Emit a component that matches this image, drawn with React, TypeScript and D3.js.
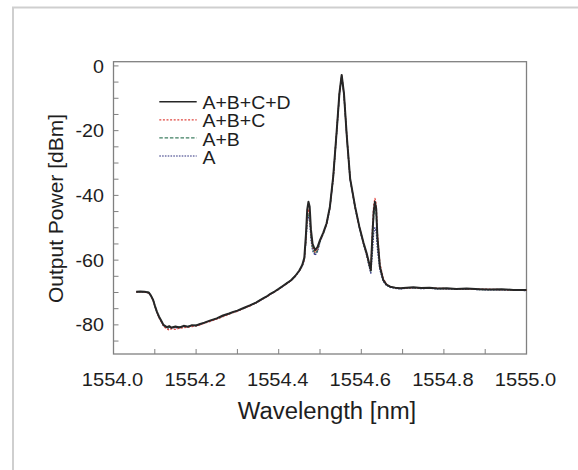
import { useEffect } from 'react';
import * as d3 from 'd3';

// wavelength grid [nm], shared by all four traces
const wavelength = [
  1554.055, 1554.065, 1554.075, 1554.085, 1554.09, 1554.096, 1554.1, 1554.105, 1554.11, 1554.115,
  1554.121, 1554.129, 1554.135, 1554.14, 1554.15, 1554.16, 1554.17, 1554.18, 1554.19, 1554.2,
  1554.21, 1554.22, 1554.235, 1554.25, 1554.265, 1554.28, 1554.29, 1554.3, 1554.315, 1554.33,
  1554.345, 1554.36, 1554.37, 1554.38, 1554.39, 1554.4, 1554.41, 1554.42, 1554.43, 1554.44,
  1554.45, 1554.457, 1554.462, 1554.466, 1554.469, 1554.472, 1554.475, 1554.478, 1554.482, 1554.488,
  1554.494, 1554.5, 1554.508, 1554.516, 1554.524, 1554.532, 1554.54, 1554.547, 1554.5525, 1554.558,
  1554.565, 1554.573, 1554.585, 1554.595, 1554.605, 1554.613, 1554.619, 1554.623, 1554.627, 1554.63,
  1554.633, 1554.636, 1554.639, 1554.645, 1554.653, 1554.661, 1554.67, 1554.682, 1554.694, 1554.71,
  1554.726, 1554.745, 1554.765, 1554.785, 1554.807, 1554.83, 1554.855, 1554.887, 1554.91, 1554.94,
  1554.968, 1555.0,
];

const powerABCD = [
  -69.8, -69.7, -69.8, -70.0, -70.8, -72.3, -74.0, -75.9, -77.4, -78.6,
  -80.0, -80.7, -80.4, -80.9, -80.5, -80.8, -80.3, -80.6, -80.1, -80.2,
  -79.7, -79.3, -78.6, -78.0, -77.1, -76.5, -76.0, -75.6, -74.8, -74.0,
  -73.1, -72.0, -71.3, -70.4, -69.7, -68.9, -68.0, -67.1, -66.2, -64.9,
  -63.2, -61.5, -59.3, -52.0, -44.5, -42.0, -43.5, -50.5, -55.0, -56.9,
  -56.0, -53.8, -51.5, -48.6, -43.5, -34.2, -20.8, -8.5, -2.8, -8.5,
  -21.9, -34.8, -43.5, -49.5, -54.5, -57.9, -61.0, -63.1, -52.0, -45.0,
  -42.0, -44.0, -52.8, -62.0, -66.1, -67.6, -68.2, -68.5, -68.7, -68.5,
  -68.4, -68.6, -68.5, -68.8, -68.7, -68.9, -68.8, -69.0, -69.1, -69.0,
  -69.2, -69.2,
];

const powerABC = [
  -69.8, -69.8, -69.9, -70.1, -70.9, -72.4, -74.2, -76.1, -77.7, -78.9,
  -80.4, -81.3, -81.6, -81.2, -81.4, -81.0, -80.9, -80.7, -80.5, -80.3,
  -80.0, -79.5, -78.9, -78.2, -77.5, -76.7, -76.2, -75.8, -74.9, -74.2,
  -73.2, -72.1, -71.4, -70.6, -69.8, -69.0, -68.1, -67.2, -66.3, -65.0,
  -63.3, -61.7, -59.8, -53.5, -46.5, -44.5, -45.5, -51.5, -55.8, -57.5,
  -56.5, -54.0, -51.7, -48.8, -43.7, -34.4, -21.0, -8.7, -3.0, -8.7,
  -22.0, -35.0, -43.6, -49.6, -54.6, -58.1, -61.3, -63.0, -50.0, -43.0,
  -40.9, -42.5, -51.5, -61.0, -65.6, -67.4, -68.2, -68.6, -68.7, -68.6,
  -68.5, -68.6, -68.6, -68.7, -68.8, -68.8, -68.9, -69.0, -69.0, -69.1,
  -69.2, -69.3,
];

const powerAB = [
  -69.8, -69.8, -69.8, -70.0, -70.8, -72.3, -74.1, -76.0, -77.5, -78.7,
  -80.1, -80.9, -80.8, -80.7, -80.8, -80.6, -80.5, -80.4, -80.3, -80.1,
  -79.8, -79.4, -78.7, -78.1, -77.3, -76.6, -76.1, -75.7, -74.9, -74.1,
  -73.1, -72.0, -71.3, -70.5, -69.7, -68.9, -68.0, -67.1, -66.2, -64.9,
  -63.3, -61.6, -59.8, -54.0, -47.5, -45.5, -46.5, -52.5, -56.5, -58.0,
  -57.0, -54.2, -51.8, -48.9, -43.8, -34.5, -21.1, -8.8, -3.1, -8.8,
  -22.1, -35.1, -43.7, -49.7, -54.8, -58.4, -61.6, -63.4, -53.5, -46.5,
  -44.0, -45.5, -53.5, -62.0, -66.0, -67.6, -68.3, -68.6, -68.8, -68.6,
  -68.6, -68.7, -68.6, -68.8, -68.8, -68.9, -68.9, -69.1, -69.1, -69.1,
  -69.3, -69.3,
];

const powerA = [
  -69.9, -69.8, -69.9, -70.1, -70.9, -72.4, -74.1, -76.0, -77.6, -78.8,
  -80.2, -80.9, -81.0, -80.8, -80.9, -80.7, -80.6, -80.5, -80.3, -80.2,
  -79.9, -79.4, -78.8, -78.1, -77.3, -76.6, -76.1, -75.7, -74.9, -74.1,
  -73.2, -72.1, -71.4, -70.5, -69.8, -69.0, -68.1, -67.2, -66.3, -65.0,
  -63.4, -61.8, -60.0, -54.5, -48.5, -46.5, -47.5, -53.5, -57.0, -58.5,
  -57.3, -54.4, -51.9, -49.0, -43.9, -34.6, -21.2, -8.9, -3.2, -8.9,
  -22.2, -35.2, -43.8, -49.8, -55.0, -58.6, -62.0, -64.0, -57.5, -51.5,
  -50.0, -51.0, -56.5, -63.0, -66.5, -67.8, -68.4, -68.7, -68.9, -68.7,
  -68.6, -68.8, -68.7, -68.9, -68.9, -69.0, -69.0, -69.1, -69.2, -69.2,
  -69.3, -69.4,
];

const seriesNames = ['A+B+C+D', 'A+B+C', 'A+B', 'A'];
const seriesValues = [powerABCD, powerABC, powerAB, powerA];

const xTickValues = [1554.0, 1554.2, 1554.4, 1554.6, 1554.8, 1555.0];
const yTickValues = [0, -20, -40, -60, -80];

const styles = [
  { stroke: '#262626', width: 2, dash: null },
  { stroke: '#e0463f', width: 1.3, dash: '2,1.6' },
  { stroke: '#3f7f62', width: 1.3, dash: '3.5,1.8' },
  { stroke: '#2d2f7e', width: 1.3, dash: '1.6,1.2' },
];

const W = 578;
const H = 470;
const frame = { left: 113.5, right: 526.5, top: 61.7, bottom: 354 };
const font = '"Liberation Sans", Arial, Helvetica, sans-serif';

export default function App() {
  useEffect(() => {
    document.body.style.margin = '0';
  }, []);

  const x = d3.scaleLinear().domain([1554.0, 1555.0]).range([frame.left, frame.right]);
  const y = d3.scaleLinear().domain([-89, 1.3]).range([frame.bottom, frame.top]);

  const line = d3
    .line<number>()
    .x((_, i) => x(wavelength[i]))
    .y((d) => y(d));

  const xMinor = d3.range(1554.1, 1555.0, 0.1);
  const yMinor = d3.range(-85, 0.1, 5);

  // draw A first so the black trace sits on top
  const order = [3, 2, 1, 0];

  return (
    <svg width={W} height={H} style={{ display: 'block', background: '#fff' }}>
      <rect x={13} y={7.5} width={W + 10} height={H + 10} fill="#fff" stroke="#cfcfcf" strokeWidth={2} />

      <rect
        x={frame.left}
        y={frame.top}
        width={frame.right - frame.left}
        height={frame.bottom - frame.top}
        fill="none"
        stroke="#808080"
        strokeWidth={1.3}
      />

      {xMinor.map((v, i) => (
        <line key={'xt' + i} x1={x(v)} x2={x(v)} y1={frame.bottom} y2={frame.bottom - 5} stroke="#808080" strokeWidth={1} />
      ))}
      {yMinor.map((v, i) => (
        <line key={'yt' + i} x1={frame.left} x2={frame.left + 5} y1={y(v)} y2={y(v)} stroke="#808080" strokeWidth={1} />
      ))}

      {order.map((k) => (
        <path
          key={seriesNames[k]}
          d={line(seriesValues[k]) || ''}
          fill="none"
          stroke={styles[k].stroke}
          strokeWidth={styles[k].width}
          strokeDasharray={styles[k].dash || undefined}
          strokeLinejoin="round"
        />
      ))}

      <g fontFamily={font} fill="#1e1e1e">
        {xTickValues.map((v) => (
          <text
            key={'xl' + v}
            transform={`translate(${x(v) - 1},386) scale(1.08,1)`}
            textAnchor="middle"
            fontSize={18.6}
          >
            {v.toFixed(1)}
          </text>
        ))}
        {yTickValues.map((v) => (
          <text
            key={'yl' + v}
            transform={`translate(104,${y(v) + 6.6}) scale(1.06,1)`}
            textAnchor="end"
            fontSize={18.6}
          >
            {v}
          </text>
        ))}
        <text transform="translate(327,419) scale(1.04,1)" textAnchor="middle" fontSize={23}>
          Wavelength [nm]
        </text>
        <text transform="translate(62.5,208.5) rotate(-90)" textAnchor="middle" fontSize={21}>
          Output Power [dBm]
        </text>
      </g>

      <g fontFamily={font} fill="#1e1e1e">
        {seriesNames.map((name, i) => {
          const ly = 101.7 + i * 18.1;
          return (
            <g key={'lg' + name}>
              <line
                x1={159.3}
                x2={196.7}
                y1={ly}
                y2={ly}
                stroke={styles[i].stroke}
                strokeWidth={i === 0 ? 1.6 : 1.2}
                strokeDasharray={styles[i].dash || undefined}
              />
              <text transform={`translate(202.5,${ly + 7.6}) scale(1.1,1)`} fontSize={17.7}>
                {name}
              </text>
            </g>
          );
        })}
      </g>
    </svg>
  );
}
